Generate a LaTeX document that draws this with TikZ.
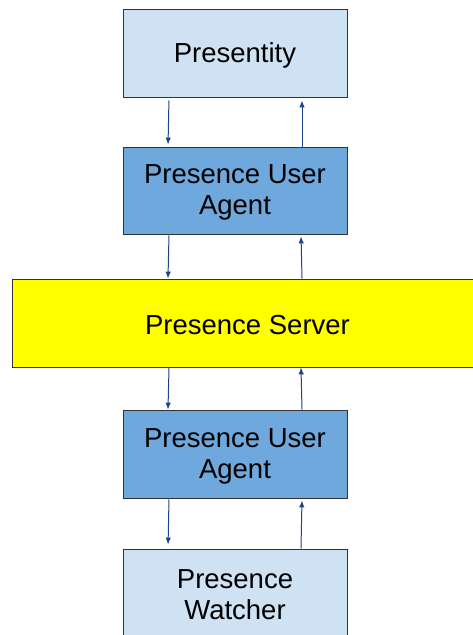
\documentclass[tikz,border=0pt]{standalone}
\usepackage{fontspec}
\setmainfont{Liberation Sans}
\usetikzlibrary{arrows.meta}
\definecolor{paleblue}{HTML}{CFE2F3}
\definecolor{midblue}{HTML}{6FA8DC}
\definecolor{serveryellow}{HTML}{FFFF00}
\definecolor{flowblue}{HTML}{1C4587}
\tikzset{
  box/.style={draw=black!80, line width=0.8pt, minimum width=224pt, minimum height=88pt,
              inner sep=0pt},
  caption/.style={align=center, inner sep=0pt, yshift=-2pt,
                  font=\fontsize{27.5}{31}\selectfont},
  flow/.style={draw=flowblue, line width=1pt, -{Latex[length=7pt,width=5.5pt]}},
}
\begin{document}
\begin{tikzpicture}[x=1pt,y=-1pt]
  \useasboundingbox (0,0) rectangle (473,635);
  \clip (0,0) rectangle (473,635);

  \node[box, fill=paleblue, label={[caption]center:Presentity}] (pres) at (235,53) {};
  \node[box, fill=midblue, minimum height=87pt,
        label={[caption]center:Presence User\\Agent}] (pua1) at (235,190.5) {};
  \node[box, fill=serveryellow, minimum width=471pt,
        label={[caption]center:Presence Server}] (srv) at (247.5,323) {};
  \node[box, fill=midblue, label={[caption]center:Presence User\\Agent}] (pua2) at (235,454) {};
  \node[box, fill=paleblue, label={[caption]center:Presence\\Watcher}] (watch) at (235,593) {};

  % downward requests on the left, upward notifications on the right
  \draw[flow, shorten <=3pt, shorten >=2pt] (pres.south -| 169,0) -- (pua1.north -| 168,0);
  \draw[flow, shorten >=3pt] (pua1.north -| 302,0) -- (pres.south -| 302,0);

  \draw[flow, shorten <=1pt] (pua1.south -| 169,0) -- (srv.north -| 168,0);
  \draw[flow, shorten >=2pt] (srv.north -| 302,0) -- (pua1.south -| 301,0);

  \draw[flow] (srv.south -| 169,0) -- (pua2.north -| 168,0);
  \draw[flow] (pua2.north -| 302,0) -- (srv.south -| 301,0);

  \draw[flow, shorten <=1pt, shorten >=4pt] (pua2.south -| 169,0) -- (watch.north -| 168,0);
  \draw[flow, shorten >=2pt] (watch.north -| 301,0) -- (pua2.south -| 302,0);
\end{tikzpicture}
\end{document}
